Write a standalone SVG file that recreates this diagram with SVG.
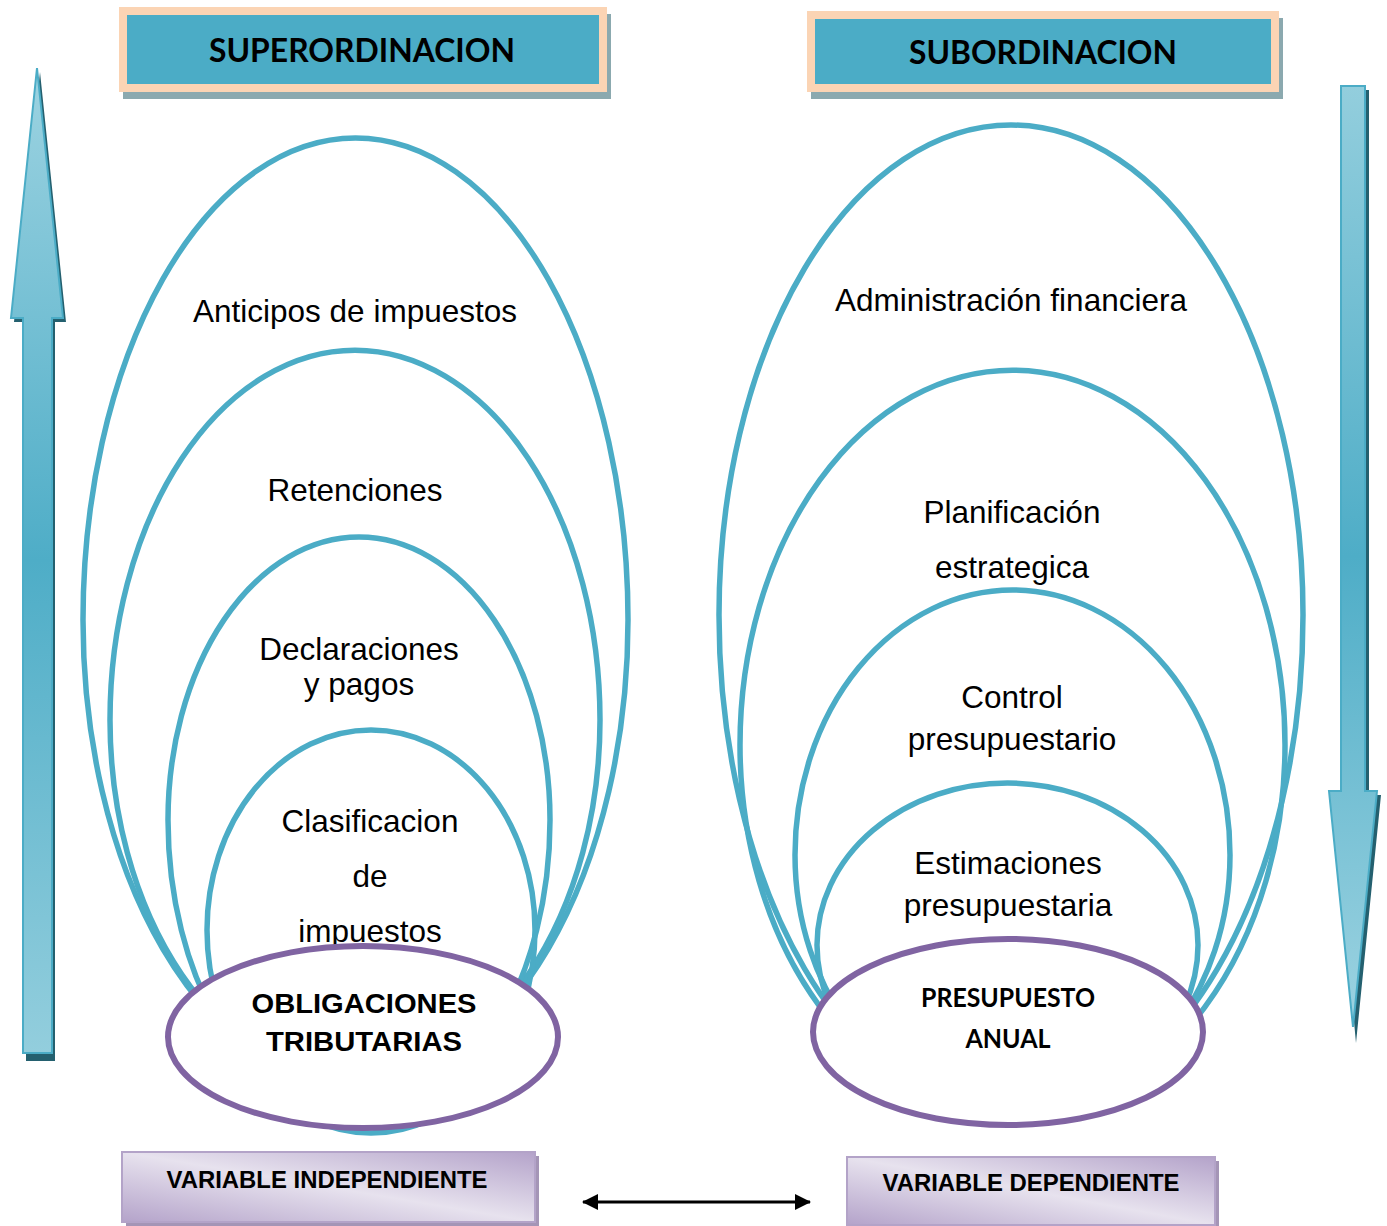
<svg xmlns="http://www.w3.org/2000/svg" width="1387" height="1226" viewBox="0 0 1387 1226">
  <defs>
    <linearGradient id="gUp" gradientUnits="userSpaceOnUse" x1="0" y1="68" x2="0" y2="1053">
      <stop offset="0" stop-color="#9dd3e1"/>
      <stop offset="0.5" stop-color="#4eadc7"/>
      <stop offset="1" stop-color="#93cedd"/>
    </linearGradient>
    <linearGradient id="gDown" gradientUnits="userSpaceOnUse" x1="0" y1="86" x2="0" y2="1027">
      <stop offset="0" stop-color="#93cedd"/>
      <stop offset="0.5" stop-color="#4eadc7"/>
      <stop offset="1" stop-color="#9dd3e1"/>
    </linearGradient>
    <linearGradient id="gVar" x1="0" y1="1" x2="1" y2="0">
      <stop offset="0" stop-color="#b4a3ca"/>
      <stop offset="0.5" stop-color="#e7e2ee"/>
      <stop offset="1" stop-color="#b4a3ca"/>
    </linearGradient>
    <marker id="ah" viewBox="0 0 16 16" refX="15" refY="8" markerWidth="16" markerHeight="16" markerUnits="userSpaceOnUse" orient="auto-start-reverse">
      <path d="M0,0 L16,8 L0,16 Z" fill="#000"/>
    </marker>
  </defs>
  <style>
    .title-shadow { fill: #8ba9af; }
    .title-box { fill: #4bacc6; stroke: #fbd4b4; stroke-width: 8; }
    .title-text { font-family: Lato, "Open Sans", sans-serif; font-weight: bold; font-size: 32px; fill: #000; text-anchor: middle; }
    .ell { fill: none; stroke: #4bacc6; stroke-width: 5.5; }
    .core { fill: #fff; stroke: #8064a2; stroke-width: 6; }
    .lbl { font-family: "Liberation Sans", Arial, sans-serif; font-size: 31.5px; fill: #000; text-anchor: middle; }
    .core-text { font-family: "Liberation Sans", Arial, sans-serif; font-weight: bold; font-size: 27px; fill: #000; text-anchor: middle; }
    .core-text2 { font-family: Lato, "Open Sans", sans-serif; font-weight: bold; font-size: 26px; fill: #000; text-anchor: middle; }
    .arrow-shadow { fill: #24606f; }
    .var-shadow { fill: #a495b6; }
    .var-box { fill: url(#gVar); stroke: #b3a3c8; stroke-width: 2; }
    .var-text { font-family: "Liberation Sans", Arial, sans-serif; font-weight: bold; font-size: 23px; fill: #000; text-anchor: middle; }
  </style>

  <!-- Title boxes -->
  <g id="title-superordinacion">
    <rect class="title-shadow" x="123" y="14" width="488" height="85"/>
    <rect class="title-box" x="123" y="11" width="480" height="77"/>
    <text class="title-text" x="362" y="62" textLength="306" lengthAdjust="spacingAndGlyphs">SUPERORDINACION</text>
  </g>
  <g id="title-subordinacion">
    <rect class="title-shadow" x="811" y="18" width="472" height="81"/>
    <rect class="title-box" x="811" y="15" width="464" height="73"/>
    <text class="title-text" x="1043" y="64" textLength="268" lengthAdjust="spacingAndGlyphs">SUBORDINACION</text>
  </g>

  <!-- Big side arrows -->
  <g id="arrow-up">
    <polygon class="arrow-shadow" points="40,72 66,322 55,322 55,1061 26,1061 26,322 14,322"/>
    <polygon fill="url(#gUp)" stroke="#4bacc6" stroke-width="2" points="37,68 63,318 52,318 52,1053 23,1053 23,318 11,318"/>
  </g>
  <g id="arrow-down">
    <polygon class="arrow-shadow" points="1344,90 1369,90 1369,795 1381,795 1356,1043 1333,795 1344,795"/>
    <polygon fill="url(#gDown)" stroke="#4bacc6" stroke-width="2" points="1341,86 1365,86 1365,791 1377,791 1353,1027 1329,791 1341,791"/>
  </g>

  <!-- Left nested ellipses -->
  <g id="left-anticipos">
    <path class="ell" d="M83,620 A272.5,482 0 0 1 628,620 A272.5,465 0 0 1 83,620 Z"/>
    <text class="lbl" x="355" y="322">Anticipos de impuestos</text>
  </g>
  <g id="left-retenciones">
    <path class="ell" d="M110,720 A245,370 0 0 1 600,720 A245,360 0 0 1 110,720 Z"/>
    <text class="lbl" x="355" y="501">Retenciones</text>
  </g>
  <g id="left-declaraciones">
    <path class="ell" d="M168,820 A191,283 0 0 1 550,820 A191,300 0 0 1 168,820 Z"/>
    <text class="lbl" x="359" y="660">Declaraciones</text>
    <text class="lbl" x="359" y="695">y pagos</text>
  </g>
  <g id="left-clasificacion">
    <path class="ell" d="M207,930 A164,200 0 0 1 535,930 A164,203 0 0 1 207,930 Z"/>
    <text class="lbl" x="370" y="832">Clasificacion</text>
    <text class="lbl" x="370" y="887">de</text>
    <text class="lbl" x="370" y="942">impuestos</text>
  </g>
  <g id="left-core">
    <ellipse class="core" cx="363" cy="1037" rx="195" ry="91"/>
    <text class="core-text" x="364" y="1013" textLength="225" lengthAdjust="spacingAndGlyphs">OBLIGACIONES</text>
    <text class="core-text" x="364" y="1051" textLength="196" lengthAdjust="spacingAndGlyphs">TRIBUTARIAS</text>
  </g>

  <!-- Right nested ellipses -->
  <g id="right-administracion">
    <path class="ell" d="M719,615 A292,490 0 0 1 1303,615 A292,500 0 0 1 719,615 Z"/>
    <text class="lbl" x="1011" y="311">Administración financiera</text>
  </g>
  <g id="right-planificacion">
    <path class="ell" d="M740,745 A272.5,375 0 0 1 1285,745 A272.5,370 0 0 1 740,745 Z"/>
    <text class="lbl" x="1012" y="523">Planificación</text>
    <text class="lbl" x="1012" y="578">estrategica</text>
  </g>
  <g id="right-control">
    <path class="ell" d="M795,855 A217.5,265 0 0 1 1230,855 A217.5,260 0 0 1 795,855 Z"/>
    <text class="lbl" x="1012" y="708">Control</text>
    <text class="lbl" x="1012" y="750">presupuestario</text>
  </g>
  <g id="right-estimaciones">
    <path class="ell" d="M817,945 A190.5,162 0 0 1 1198,945 A190.5,165 0 0 1 817,945 Z"/>
    <text class="lbl" x="1008" y="874">Estimaciones</text>
    <text class="lbl" x="1008" y="916">presupuestaria</text>
  </g>
  <g id="right-core">
    <ellipse class="core" cx="1008" cy="1032" rx="195" ry="93"/>
    <text class="core-text2" x="1008" y="1007" textLength="174" lengthAdjust="spacingAndGlyphs">PRESUPUESTO</text>
    <text class="core-text2" x="1008" y="1048" textLength="85" lengthAdjust="spacingAndGlyphs">ANUAL</text>
  </g>

  <!-- Variable boxes -->
  <g id="var-independiente">
    <rect class="var-shadow" x="126" y="1156" width="413" height="70"/>
    <rect class="var-box" x="122" y="1152" width="413" height="70"/>
    <text class="var-text" x="327" y="1188" textLength="321" lengthAdjust="spacingAndGlyphs">VARIABLE INDEPENDIENTE</text>
  </g>
  <g id="var-dependiente">
    <rect class="var-shadow" x="851" y="1161" width="368" height="66"/>
    <rect class="var-box" x="847" y="1157" width="368" height="68"/>
    <text class="var-text" x="1031" y="1191" textLength="297" lengthAdjust="spacingAndGlyphs">VARIABLE DEPENDIENTE</text>
  </g>

  <!-- Connectors -->
  <g id="connectors">
    <line x1="583" y1="1202" x2="810" y2="1202" stroke="#000" stroke-width="3" marker-start="url(#ah)" marker-end="url(#ah)"/>
  </g>
</svg>
